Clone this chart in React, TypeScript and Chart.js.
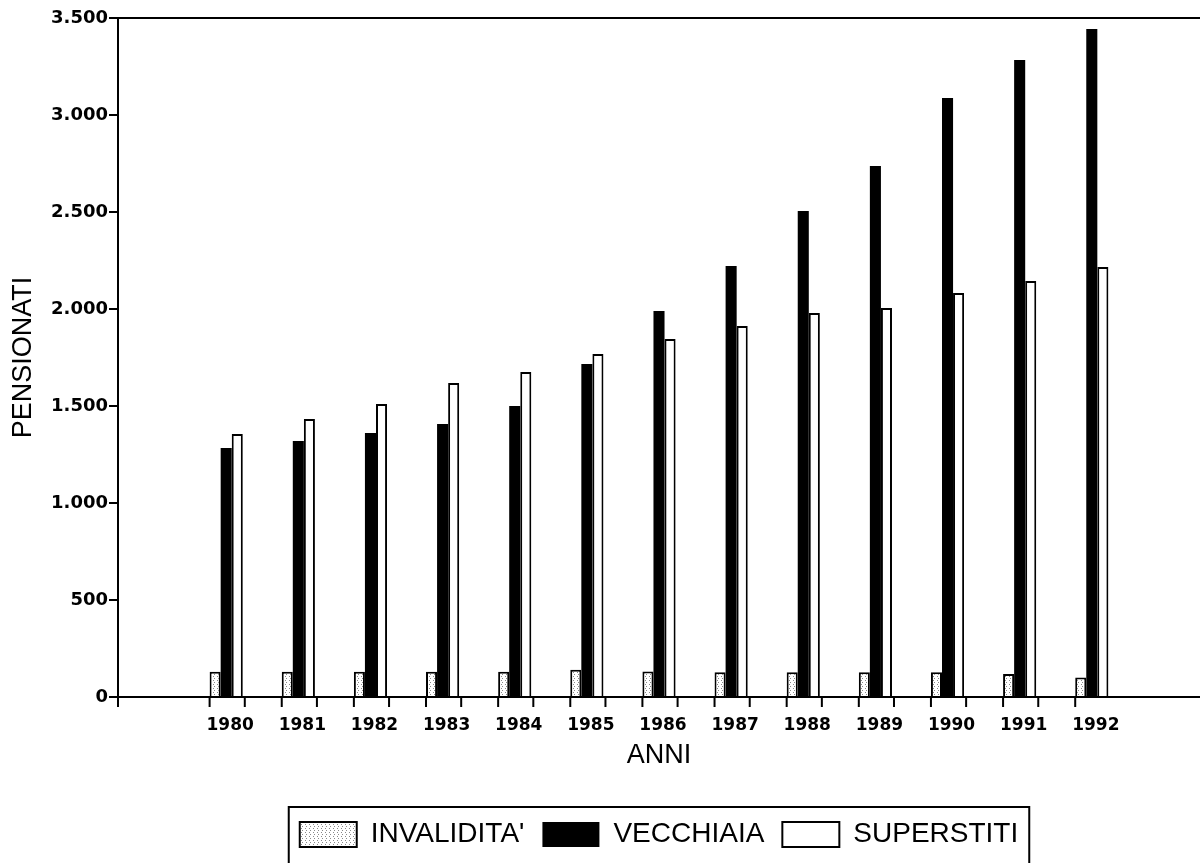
import React, { useEffect, useRef } from 'react';
import { Chart, registerables } from 'chart.js';

Chart.register(...registerables);

// ---- data ----
const years = ['1980', '1981', '1982', '1983', '1984', '1985', '1986', '1987', '1988', '1989', '1990', '1991', '1992'];
const invalidita = [130, 130, 130, 130, 130, 140, 132, 128, 128, 128, 128, 118, 100];
const vecchiaia = [1284, 1320, 1361, 1407, 1500, 1716, 1990, 2222, 2505, 2737, 3088, 3284, 3443];
const superstiti = [1356, 1433, 1510, 1619, 1675, 1768, 1845, 1912, 1979, 2005, 2082, 2144, 2216];
const seriesNames = ["INVALIDITA'", 'VECCHIAIA', 'SUPERSTITI'];
const yMin = 0;
const yMax = 3500;
const yStep = 500;
const xTitle = 'ANNI';
const yTitle = 'PENSIONATI';

// empty slots on both sides of the year categories (as in the original frame)
const labels = ['', ...years, ''];
const pad = (arr: number[]) => [null, ...arr, null];

const fmt = (v: number) => String(v).replace(/\B(?=(\d{3})+(?!\d))/g, '.');

export default function App() {
  const ref = useRef<HTMLCanvasElement>(null);

  useEffect(() => {
    const canvas = ref.current!;
    const pc = document.createElement('canvas');
    pc.width = 4;
    pc.height = 4;
    const pctx = pc.getContext('2d')!;
    pctx.fillStyle = '#ffffff';
    pctx.fillRect(0, 0, 4, 4);
    pctx.fillStyle = '#8a8a8a';
    pctx.fillRect(1, 0, 1, 1);
    pctx.fillRect(2, 2, 1, 1);
    const pattern = canvas.getContext('2d')!.createPattern(pc, 'repeat')!;

    const lastIdx = labels.length - 2;

    const framePlugin = {
      id: 'frame',
      afterDraw(chart: any) {
        const { ctx, chartArea } = chart;
        ctx.save();
        ctx.strokeStyle = '#000';
        ctx.lineWidth = 2;
        // top frame line
        ctx.beginPath();
        ctx.moveTo(chartArea.left - 1, chartArea.top);
        ctx.lineTo(chartArea.right, chartArea.top);
        ctx.stroke();
        // x tick marks at group edges
        const m0 = chart.getDatasetMeta(0);
        const m2 = chart.getDatasetMeta(2);
        const b = chartArea.bottom;
        ctx.beginPath();
        ctx.moveTo(chartArea.left, b);
        ctx.lineTo(chartArea.left, b + 10);
        labels.forEach((l, i) => {
          if (!l) return;
          const e0: any = m0.data[i];
          const e2: any = m2.data[i];
          const lx = e0.x - e0.width / 2;
          ctx.moveTo(lx, b);
          ctx.lineTo(lx, b + 10);
          if (i < lastIdx) {
            const rx = e2.x + e2.width / 2 + 2;
            ctx.moveTo(rx, b);
            ctx.lineTo(rx, b + 10);
          }
        });
        ctx.stroke();
        // legend frame
        const lg = chart.legend;
        const hb = lg.legendHitBoxes;
        if (hb && hb.length) {
          const L = hb[0].left - 11;
          const last = hb[hb.length - 1];
          const R = last.left + last.width + 11;
          ctx.strokeRect(L, lg.top + 4.5, R - L, chart.height);
        }
        ctx.restore();
      },
    };

    const chart = new Chart(canvas, {
      type: 'bar',
      data: {
        labels,
        datasets: [
          {
            label: seriesNames[0],
            data: pad(invalidita),
            backgroundColor: pattern as any,
            borderColor: '#000',
            borderWidth: 2,
            borderSkipped: 'start',
          },
          {
            label: seriesNames[1],
            data: pad(vecchiaia),
            backgroundColor: '#000',
            borderColor: '#000',
            borderWidth: 0,
            borderSkipped: 'start',
          },
          {
            label: seriesNames[2],
            data: pad(superstiti),
            backgroundColor: '#fff',
            borderColor: '#000',
            borderWidth: 2,
            borderSkipped: 'start',
          },
        ],
      },
      options: {
        animation: false,
        responsive: false,
        maintainAspectRatio: false,
        devicePixelRatio: 1,
        datasets: {
          bar: { categoryPercentage: 0.46, barPercentage: 1.0 },
        },
        layout: { padding: { top: 18, left: 0, right: 0, bottom: 4.5 } },
        plugins: {
          tooltip: { enabled: false },
          legend: {
            position: 'bottom',
            fullSize: false,
            labels: {
              boxWidth: 57,
              boxHeight: 25,
              padding: 18,
              color: '#000',
              font: { family: '"Liberation Sans", Arial, sans-serif', size: 28 },
            },
          },
        },
        scales: {
          x: {
            type: 'category',
            offset: true,
            grid: { display: false, drawTicks: false, drawOnChartArea: false },
            border: { display: true, color: '#000', width: 2 },
            ticks: {
              color: '#000',
              font: { family: '"DejaVu Sans", sans-serif', size: 17, weight: 'bold' },
              padding: 18,
              labelOffset: 4,
              maxRotation: 0,
              autoSkip: false,
            },
            title: {
              display: true,
              text: xTitle,
              color: '#000',
              font: { family: '"Liberation Sans", Arial, sans-serif', size: 27 },
              padding: { top: 0, bottom: 31 },
            },
            afterFit: (scale: any) => {
              scale.height = 105.5;
            },
          },
          y: {
            type: 'linear',
            min: yMin,
            max: yMax,
            grid: {
              display: true,
              drawOnChartArea: false,
              drawTicks: true,
              tickLength: 9,
              color: '#000',
              lineWidth: 2,
            },
            border: { display: true, color: '#000', width: 2 },
            ticks: {
              stepSize: yStep,
              color: '#000',
              padding: 1,
              font: { family: '"DejaVu Sans", sans-serif', size: 18, weight: 'bold' },
              callback: (v: any) => fmt(Number(v)),
            },
            title: {
              display: true,
              text: yTitle,
              color: '#000',
              font: { family: '"Liberation Sans", Arial, sans-serif', size: 27 },
              padding: { top: 7, bottom: 0 },
            },
            afterFit: (scale: any) => {
              scale.width = 118;
            },
          },
        },
      },
      plugins: [framePlugin],
    });

    return () => chart.destroy();
  }, []);

  return (
    <div
      style={{
        position: 'absolute',
        left: 0,
        top: 0,
        width: 1200,
        height: 863,
        overflow: 'hidden',
        background: '#fff',
      }}
    >
      <canvas ref={ref} width={1200} height={863} style={{ display: 'block', width: 1200, height: 863 }} />
    </div>
  );
}
